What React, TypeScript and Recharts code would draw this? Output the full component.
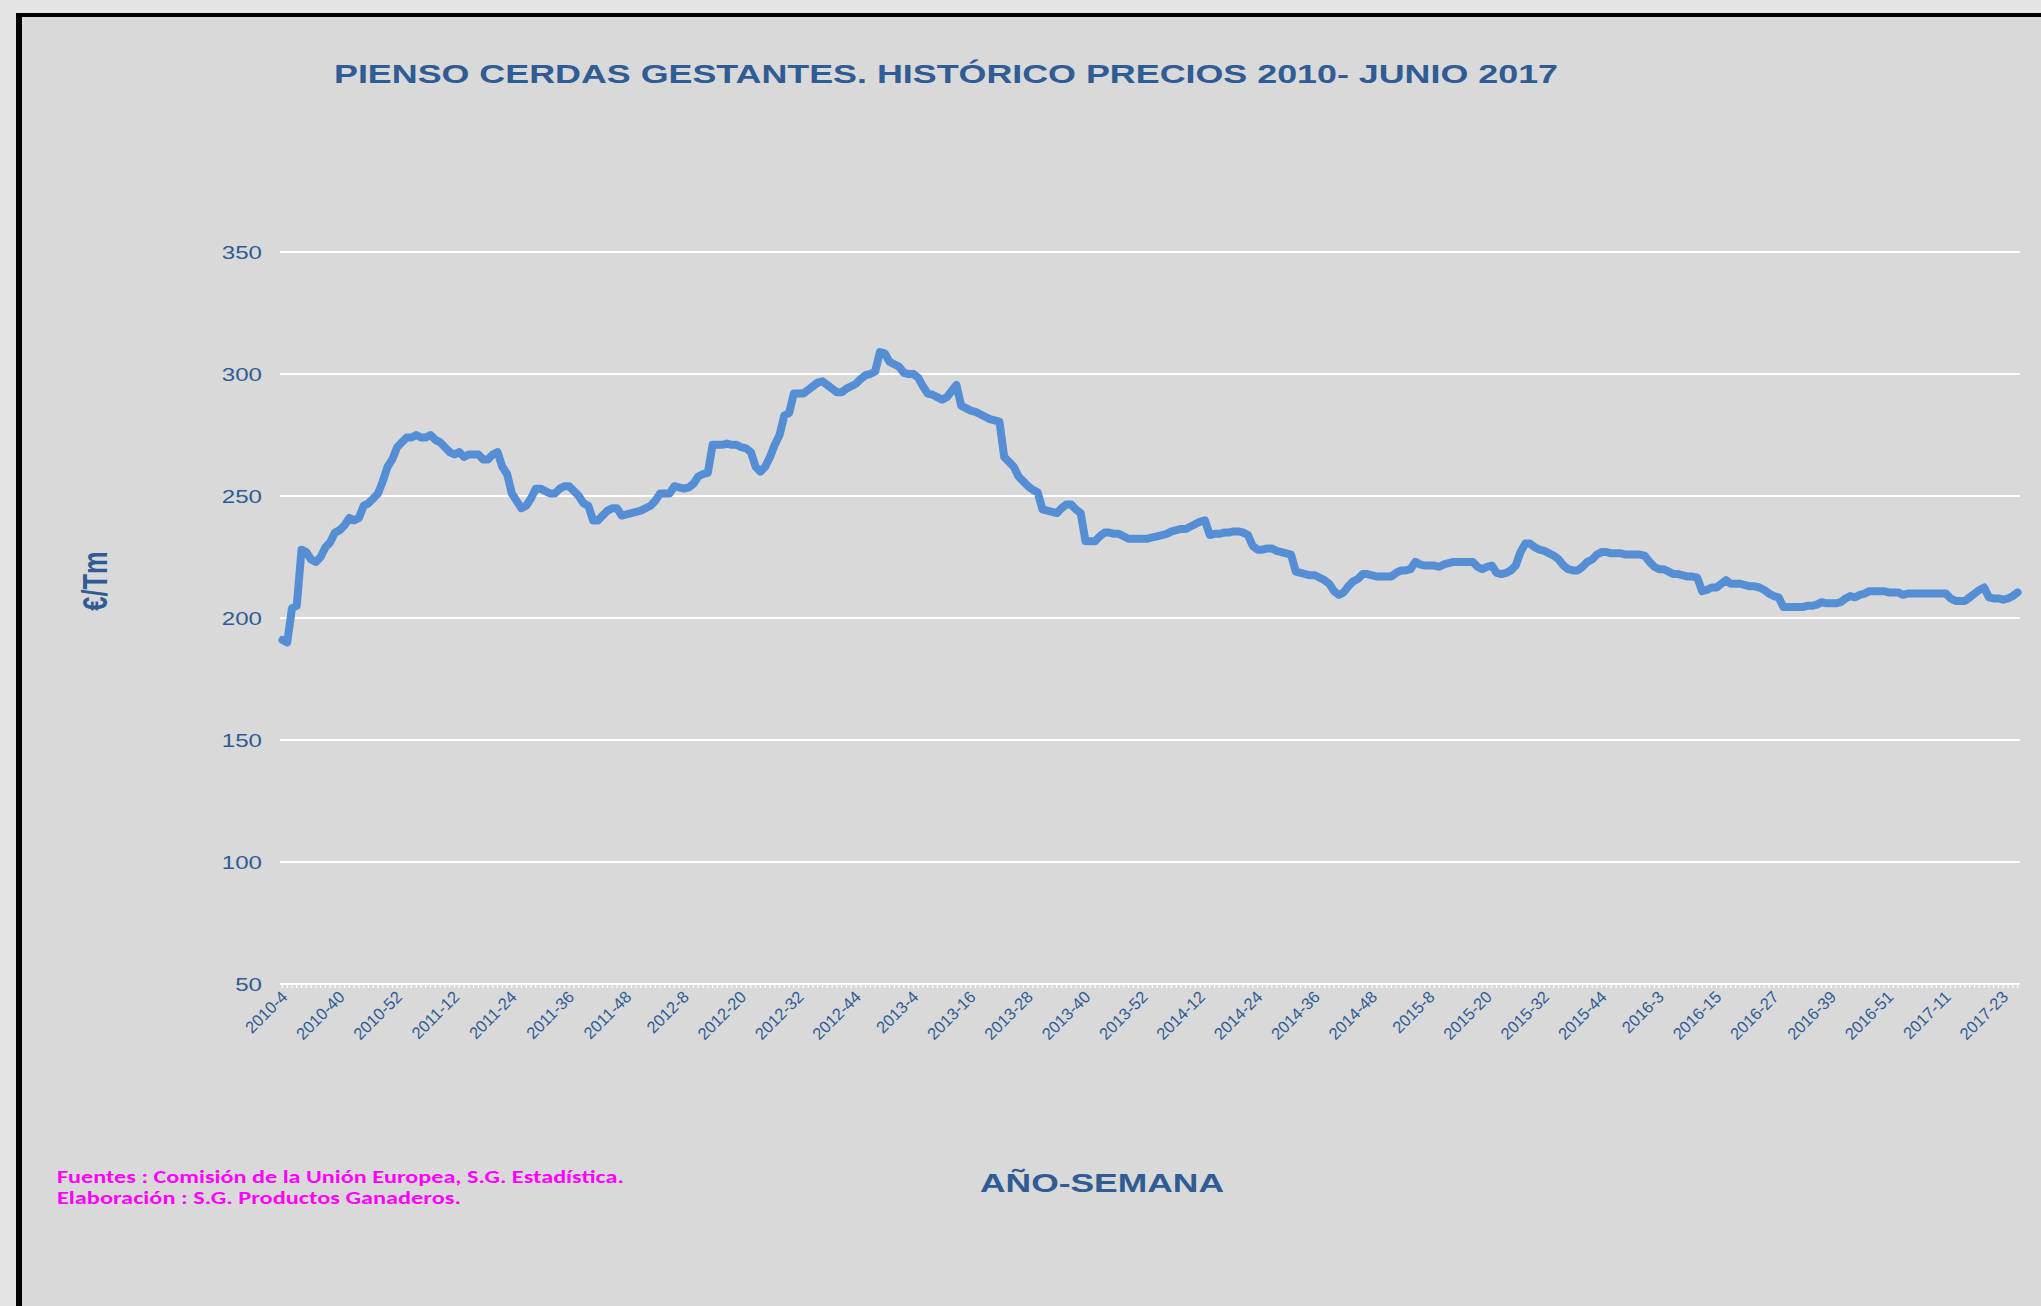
import React from "react";
import { LineChart, Line, XAxis, YAxis, CartesianGrid } from "recharts";

// week runs: 2010 starts every 3 weeks, then weekly
const WEEK_RUNS = [
  { year: 2010, from: 4, to: 40, step: 3 },
  { year: 2010, from: 41, to: 52, step: 1 },
  { year: 2011, from: 1, to: 52, step: 1 },
  { year: 2012, from: 1, to: 52, step: 1 },
  { year: 2013, from: 1, to: 52, step: 1 },
  { year: 2014, from: 1, to: 52, step: 1 },
  { year: 2015, from: 1, to: 53, step: 1 },
  { year: 2016, from: 1, to: 52, step: 1 },
  { year: 2017, from: 1, to: 26, step: 1 },
];

const P2010 = [191, 190, 204, 205, 228, 227, 224, 223, 225, 229, 231, 235, 236, 238, 241, 240, 241, 246, 247, 249, 251, 256, 262, 265, 270];
const P2011 = [272, 274, 274, 275, 274, 274, 275, 273, 272, 270, 268, 267, 268, 266, 267, 267, 267, 265, 265, 267, 268, 262, 259, 251, 248, 245,
  246, 249, 253, 253, 252, 251, 251, 253, 254, 254, 252, 250, 247, 246, 240, 240, 242, 244, 245, 245, 242, 242.5, 243, 243.5, 244, 245];
const P2012 = [246, 248, 251, 251, 251, 254, 253.5, 253, 253.5, 255, 258, 259, 259.5, 271, 271, 271, 271.5, 271, 271, 270, 269.5, 268, 262, 260, 262, 266,
  271, 275, 283, 284, 292, 292, 292, 293.5, 295, 296.5, 297, 295.5, 294, 292.5, 292.5, 294, 295, 296, 298, 299.5, 300, 301, 309, 308.5, 305, 304];
const P2013 = [303, 300.5, 300, 300, 298.5, 295, 292, 291.5, 290.5, 289.5, 290.5, 293, 295.5, 287, 286, 285, 284.5, 283.5, 282.5, 281.5, 281, 280.5, 266, 264, 262, 258,
  256, 254, 252.5, 251.5, 244.5, 244, 243.5, 243, 245, 246.5, 246.5, 244.5, 243, 231.5, 231.5, 231.5, 233.5, 235, 235, 234.5, 234.5, 233.5, 232.5, 232.5, 232.5, 232.5];
const P2014 = [232.5, 233, 233.5, 234, 234.5, 235.5, 236, 236.5, 236.5, 237.5, 238.5, 239.5, 240, 234, 234.5, 234.5, 235, 235, 235.5, 235.5, 235, 234, 229.5, 228, 228, 228.5,
  228.5, 227.5, 227, 226.5, 226, 219, 218.5, 218, 217.5, 217.5, 216.5, 215.5, 214, 211, 209.5, 210.5, 213, 215, 216, 218, 218, 217.5, 217, 217, 217, 217];
const P2015 = [218.5, 219.5, 219.5, 220, 223, 222, 221.5, 221.5, 221.5, 221, 222, 222.5, 223, 223, 223, 223, 223, 221, 220, 221, 221.5, 218.5, 218, 218.5, 219.5, 221.5, 227,
  230.5, 230.5, 229, 228, 227.5, 226.5, 225.5, 224, 221.5, 220, 219.5, 219.5, 221, 223, 224, 226, 227, 227, 226.5, 226.5, 226.5, 226, 226, 226, 226, 225.5];
const P2016 = [223, 221, 220, 220, 219, 218, 218, 217.5, 217, 217, 216.5, 211, 211.5, 212.5, 212.5, 214, 215.5, 214, 214, 214, 213.5, 213, 213, 212.5, 211.5, 210,
  209, 208.5, 204.5, 204.5, 204.5, 204.5, 204.5, 205, 205, 205.5, 206.5, 206, 206, 206, 206.5, 208, 209, 208.5, 209.5, 210, 211, 211, 211, 211, 210.5, 210.5];
const P2017 = [210.5, 209.5, 210, 210, 210, 210, 210, 210, 210, 210, 210, 208, 207, 207, 207, 208.5, 210, 211.5, 212.5, 208.5, 208, 208, 207.5, 208, 209, 210.5];

const Y_TICKS = [50, 100, 150, 200, 250, 300, 350];
const TITLE = "PIENSO CERDAS GESTANTES. HISTÓRICO PRECIOS 2010- JUNIO 2017";
const FOOTER = ["Fuentes : Comisión de la Unión Europea, S.G. Estadística.", "Elaboración : S.G. Productos Ganaderos."];

const WEEKS: string[] = [];
WEEK_RUNS.forEach((r) => {
  for (let w = r.from; w <= r.to; w += r.step) WEEKS.push(`${r.year}-${w}`);
});
const PRICES = [...P2010, ...P2011, ...P2012, ...P2013, ...P2014, ...P2015, ...P2016, ...P2017];
const data = WEEKS.map((week, i) => ({ week, price: PRICES[i] }));

const BLUE = "#2F5C94";
const FONT = "'Liberation Sans', Arial, sans-serif";

const XTick = (props: any) => {
  const { x, y, payload } = props;
  const idx = payload?.index ?? props.index;
  if (idx % 12 !== 0) return null;
  return (
    <text transform={`translate(${x + 6},${y + 10}) rotate(-45)`} textAnchor="end"
      fontSize={16.5} fill={BLUE} fontFamily={FONT}>
      {payload.value}
    </text>
  );
};

const YTick = (props: any) => {
  const { y, payload } = props;
  const s = String(payload.value);
  return (
    <text x={262} y={y} dy="0.36em" textAnchor="end" fontSize={18.5} fill={BLUE} fontFamily={FONT}
      textLength={s.length * 13.4} lengthAdjust="spacingAndGlyphs">
      {s}
    </text>
  );
};

export default function App() {
  return (
    <div style={{ position: "absolute", left: 0, top: 0, width: 2041, height: 1306, background: "#e5e5e5", overflow: "hidden" }}>
      <div style={{ position: "absolute", left: 16, top: 13, right: 0, bottom: 0, background: "#d9d9d9",
        borderLeft: "6px solid #000", borderTop: "4px solid #000" }} />
      <div style={{ position: "absolute", left: 0, top: 0 }}>
        <LineChart width={2041} height={1306} data={data}
          margin={{ top: 252, right: 21, bottom: 262, left: 200 }}>
          <CartesianGrid horizontal vertical={false} stroke="#ffffff" strokeWidth={2} />
          <XAxis dataKey="week" interval={0} tick={<XTick />} tickSize={4} tickMargin={0} height={60}
            padding={{ left: 2.4, right: 2.4 }}
            axisLine={{ stroke: "#ffffff", strokeWidth: 2 }} tickLine={{ stroke: "#ffffff", strokeWidth: 1.2 }} />
          <YAxis domain={[50, 350]} ticks={Y_TICKS} width={80} axisLine={false} tickLine={false}
            tick={<YTick />} interval={0} />
          <Line type="linear" dataKey="price" stroke="#558ED5" strokeWidth={8} dot={false}
            strokeLinejoin="round" strokeLinecap="round" isAnimationActive={false} />
        </LineChart>
      </div>
      <svg width={2041} height={1306} style={{ position: "absolute", left: 0, top: 0, pointerEvents: "none" }}>
        <text x={334} y={83} fontSize={26.5} fontWeight="bold" fill={BLUE} fontFamily={FONT}
          textLength={1224} lengthAdjust="spacingAndGlyphs">{TITLE}</text>
        <text transform="translate(95,581) scale(1.35,1) rotate(-90)" textAnchor="middle" dy="0.358em"
          fontSize={25.5} fontWeight="bold" fill={BLUE} fontFamily={FONT}>€/Tm</text>
        <text x={980} y={1192} fontSize={26.5} fontWeight="bold" fill={BLUE} fontFamily={FONT}
          textLength={244} lengthAdjust="spacingAndGlyphs">AÑO-SEMANA</text>
        <text x={57} y={1182.5} fontSize={17.5} fontWeight="bold" fill="#FF00FF" fontFamily="Carlito, Lato, sans-serif"
          textLength={567} lengthAdjust="spacingAndGlyphs">{FOOTER[0]}</text>
        <text x={57} y={1203.5} fontSize={17.5} fontWeight="bold" fill="#FF00FF" fontFamily="Carlito, Lato, sans-serif"
          textLength={404} lengthAdjust="spacingAndGlyphs">{FOOTER[1]}</text>
      </svg>
    </div>
  );
}
